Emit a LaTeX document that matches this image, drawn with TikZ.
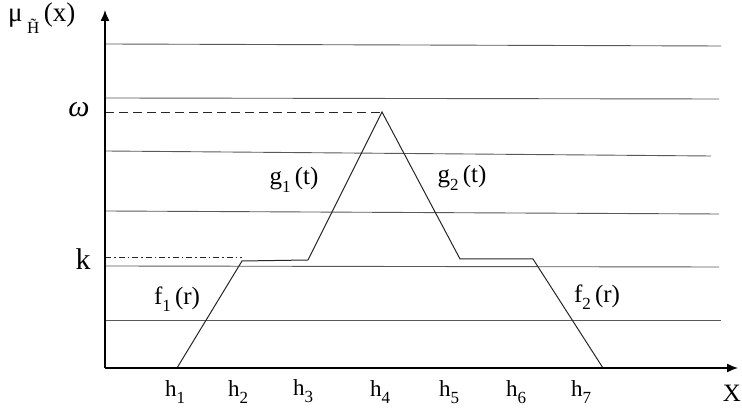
\documentclass[tikz,border=0pt]{standalone}
\usepackage{fontspec}
\setmainfont{Liberation Serif}
\usetikzlibrary{arrows.meta}
\newcommand{\lowsub}[1]{\raisebox{-0.3em}{\fontsize{17}{17}\selectfont #1}}
\begin{document}
\begin{tikzpicture}[x=1pt,y=1pt,
  grid/.style={draw=black!65,line width=0.9pt},
  axis/.style={draw=black,line width=1.4pt,-{Latex[length=11pt,width=9pt]}},
  curve/.style={draw=black!85,line width=1pt,line join=miter},
  lbl/.style={font=\fontsize{25}{25}\selectfont,inner sep=0pt},
  hl/.style={font=\fontsize{23}{23}\selectfont,inner sep=0pt}]
\useasboundingbox (0,0) rectangle (742,409);
\coordinate (O) at (105,41);
\coordinate (ytop) at (105,399);
\coordinate (xend) at (738,41);
% grid lines
\coordinate (a1) at (105,365); \coordinate (b1) at (721,363);
\coordinate (a2) at (105,311); \coordinate (b2) at (719,310);
\coordinate (a3) at (105,258); \coordinate (b3) at (711,253);
\coordinate (a4) at (105,198); \coordinate (b4) at (719,195);
\coordinate (a5) at (105,143); \coordinate (b5) at (719,142);
\coordinate (a6) at (105,89);  \coordinate (b6) at (721,89);
\draw[grid] (a1) -- (b1);
\draw[grid] (a2) -- (b2);
\draw[grid] (a3) -- (b3);
\draw[grid] (a4) -- (b4);
\draw[grid] (a5) -- (b5);
\draw[grid] (a6) -- (b6);
% trapezoid curve
\coordinate (p1) at (177,41);
\coordinate (p2) at (242,148);
\coordinate (p3) at (308,149);
\coordinate (p4) at (382,297);
\coordinate (p5) at (460,150);
\coordinate (p6) at (533,150);
\coordinate (p7) at (603,41);
\draw[curve] (p1) -- (p2) -- (p3) -- (p4) -- (p5) -- (p6) -- (p7);
% dashed helpers
\coordinate (om) at (105,297);
\coordinate (kk) at (105,152);
\coordinate (kend) at (242,152);
\draw[black!85,line width=0.9pt,dash pattern=on 9pt off 5pt] (om) -- (p4);
\draw[black!85,line width=0.9pt,dash pattern=on 6pt off 3pt on 1.5pt off 3pt] (kk) -- (kend);
% axes
\draw[axis] (O) -- (ytop);
\draw[axis] (O) -- (xend);
% labels
\node[lbl,anchor=west,font=\fontsize{27}{27}\selectfont] (mu) at (8,391) {μ\,\raisebox{-0.45em}{\fontsize{17}{17}\selectfont\~{H}}\,(x)};
\node[lbl,font=\fontsize{30}{30}\selectfont\itshape] (omega) at (79,299) {ω};
\node[lbl,font=\fontsize{30}{30}\selectfont] (k) at (83,150) {k};
\node[lbl] (f1) at (177,110) {f\lowsub{1}\,(r)};
\node[lbl] (g1) at (294,229) {g\lowsub{1}\,(t)};
\node[lbl] (g2) at (462,231) {g\lowsub{2}\,(t)};
\node[lbl] (f2) at (597,112) {f\lowsub{2}\,(r)};
\node[hl] (h1) at (175,17) {h\lowsub{1}};
\node[hl] (h2) at (238,17) {h\lowsub{2}};
\node[hl] (h3) at (303,18) {h\lowsub{3}};
\node[hl] (h4) at (380,17) {h\lowsub{4}};
\node[hl] (h5) at (449,17) {h\lowsub{5}};
\node[hl] (h6) at (516,17) {h\lowsub{6}};
\node[hl] (h7) at (581,17) {h\lowsub{7}};
\node[lbl,anchor=east] (X) at (741,16) {X};
\end{tikzpicture}
\end{document}
